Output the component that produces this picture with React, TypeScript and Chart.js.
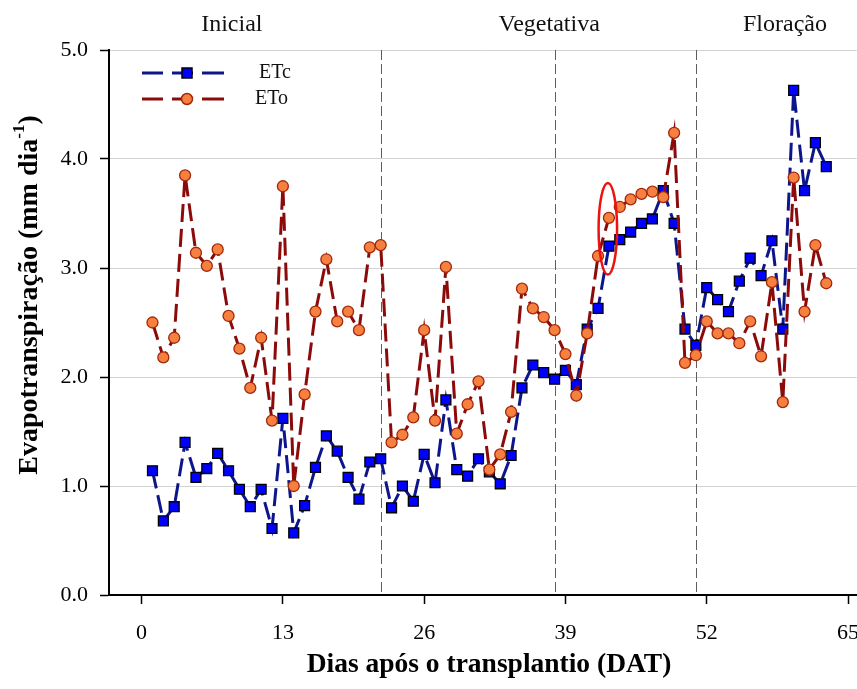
import React, { useEffect, useRef } from 'react';
import { Chart, registerables } from 'chart.js';

Chart.register(...registerables);

// ---- data ----
const days = [
  1, 2, 3, 4, 5, 6, 7, 8, 9, 10, 11, 12, 13, 14, 15, 16, 17, 18, 19, 20, 21,
  22, 23, 24, 25, 26, 27, 28, 29, 30, 31, 32, 33, 34, 35, 36, 37, 38, 39, 40, 41, 42,
  43, 44, 45, 46, 47, 48, 49, 50, 51, 52, 53, 54, 55, 56, 57, 58, 59, 60, 61, 62, 63,
];

const etc = [
  1.14, 0.68, 0.81, 1.40, 1.08, 1.16, 1.30, 1.14, 0.97, 0.81, 0.97, 0.61, 1.62, 0.57, 0.82, 1.17, 1.46, 1.32, 1.08, 0.88, 1.22,
  1.25, 0.80, 1.00, 0.86, 1.29, 1.03, 1.79, 1.15, 1.09, 1.25, 1.13, 1.02, 1.28, 1.90, 2.11, 2.04, 1.98, 2.06, 1.93, 2.44, 2.63,
  3.20, 3.26, 3.33, 3.41, 3.45, 3.71, 3.41, 2.44, 2.29, 2.82, 2.71, 2.60, 2.88, 3.09, 2.93, 3.25, 2.44, 4.63, 3.71, 4.15, 3.93,
];

const eto = [
  2.50, 2.18, 2.36, 3.85, 3.14, 3.02, 3.17, 2.56, 2.26, 1.90, 2.36, 1.60, 3.75, 1.00, 1.84, 2.60, 3.08, 2.51, 2.60, 2.43, 3.19,
  3.21, 1.40, 1.47, 1.63, 2.43, 1.60, 3.01, 1.48, 1.75, 1.96, 1.15, 1.29, 1.68, 2.81, 2.63, 2.55, 2.43, 2.21, 1.83, 2.40, 3.11,
  3.46, 3.56, 3.63, 3.68, 3.70, 3.65, 4.24, 2.13, 2.20, 2.51, 2.40, 2.40, 2.31, 2.51, 2.19, 2.87, 1.77, 3.83, 2.60, 3.21, 2.86,
];

const seriesNames = ['ETc', 'ETo'];
const xTicks = [0, 13, 26, 39, 52, 65];
const yTicks = [0, 1, 2, 3, 4, 5];
const phaseBoundaries = [22, 38, 51];
const phaseLabels = ['Inicial', 'Vegetativa', 'Floração'];
const phaseLabelDays = [8.3, 37.5, 59.2];
const highlightDay = 42.9;
const highlightValue = 3.36;
const highlightHalfDays = 0.85;
const highlightHalfValue = 0.42;

const xTitle = 'Dias após o transplantio (DAT)';
const yTitleMain = 'Evapotranspiração (mm dia';
const yTitleSup = '-1';
const yTitleEnd = ')';

const SERIF = "'Liberation Serif', 'Times New Roman', serif";

const ETC_LINE = '#0c168a';
const ETC_FILL = '#0000ff';
const ETO_LINE = '#8b0a0a';
const ETO_FILL = '#f5803f';
const ETO_EDGE = '#a3290c';

const overlayPlugin = {
  id: 'overlay',
  beforeDatasetsDraw(chart: any) {
    const { ctx, chartArea, scales } = chart;
    const x = scales.x;
    ctx.save();
    ctx.strokeStyle = '#5e5e5e';
    ctx.lineWidth = 1;
    ctx.setLineDash([10, 4]);
    phaseBoundaries.forEach((d) => {
      const px = Math.round(x.getPixelForValue(d)) + 0.5;
      ctx.beginPath();
      ctx.moveTo(px, chartArea.top);
      ctx.lineTo(px, chartArea.bottom);
      ctx.stroke();
    });
    ctx.restore();
  },
  afterDatasetsDraw(chart: any) {
    const { ctx, scales } = chart;
    const x = scales.x;
    const y = scales.y;
    const cx = x.getPixelForValue(highlightDay);
    const cy = y.getPixelForValue(highlightValue);
    const rx = Math.abs(x.getPixelForValue(highlightDay + highlightHalfDays) - cx);
    const ry = Math.abs(y.getPixelForValue(highlightValue + highlightHalfValue) - cy);
    ctx.save();
    ctx.strokeStyle = '#ee1111';
    ctx.lineWidth = 2.5;
    ctx.beginPath();
    ctx.ellipse(cx, cy, rx, ry, 0, 0, Math.PI * 2);
    ctx.stroke();
    ctx.restore();
  },
  afterDraw(chart: any) {
    const { ctx, scales } = chart;
    const x = scales.x;
    ctx.save();
    // phase labels
    ctx.fillStyle = '#111';
    ctx.font = `24px ${SERIF}`;
    ctx.textAlign = 'center';
    ctx.textBaseline = 'middle';
    phaseLabels.forEach((t, i) => {
      ctx.fillText(t, x.getPixelForValue(phaseLabelDays[i]), 25);
    });

    // legend
    const rows = [
      { name: seriesNames[0], y: 73, line: ETC_LINE, fill: ETC_FILL, edge: '#000', square: true, tx: 259 },
      { name: seriesNames[1], y: 99, line: ETO_LINE, fill: ETO_FILL, edge: ETO_EDGE, square: false, tx: 255 },
    ];
    rows.forEach((r) => {
      ctx.strokeStyle = r.line;
      ctx.lineWidth = 3;
      ctx.setLineDash([]);
      [[142, 163], [172, 193], [202, 224]].forEach(([a, b]) => {
        ctx.beginPath();
        ctx.moveTo(a, r.y);
        ctx.lineTo(b, r.y);
        ctx.stroke();
      });
      ctx.fillStyle = r.fill;
      ctx.strokeStyle = r.edge;
      ctx.lineWidth = 1.5;
      ctx.beginPath();
      if (r.square) ctx.rect(187 - 5, r.y - 5, 10, 10);
      else ctx.arc(187, r.y, 5.5, 0, Math.PI * 2);
      ctx.fill();
      ctx.stroke();
      ctx.fillStyle = '#111';
      ctx.font = `20px ${SERIF}`;
      ctx.textAlign = 'left';
      ctx.textBaseline = 'middle';
      ctx.fillText(r.name, r.tx, r.y);
    });

    // x title
    ctx.fillStyle = '#000';
    ctx.font = `bold 27.5px ${SERIF}`;
    ctx.textAlign = 'center';
    ctx.textBaseline = 'middle';
    ctx.fillText(xTitle, 489, 665);

    // y title with superscript
    ctx.translate(30, 295);
    ctx.rotate(-Math.PI / 2);
    const mainFont = `bold 28px ${SERIF}`;
    const supFont = `bold 17px ${SERIF}`;
    ctx.font = mainFont;
    const w1 = ctx.measureText(yTitleMain).width;
    const w3 = ctx.measureText(yTitleEnd).width;
    ctx.font = supFont;
    const w2 = ctx.measureText(yTitleSup).width;
    const total = w1 + w2 + w3;
    let px = -total / 2;
    ctx.textAlign = 'left';
    ctx.textBaseline = 'middle';
    ctx.font = mainFont;
    ctx.fillText(yTitleMain, px, 0);
    px += w1;
    ctx.font = supFont;
    ctx.fillText(yTitleSup, px, -10);
    px += w2;
    ctx.font = mainFont;
    ctx.fillText(yTitleEnd, px, 0);
    ctx.restore();
  },
};

export default function App() {
  const canvasRef = useRef<HTMLCanvasElement | null>(null);

  useEffect(() => {
    if (!canvasRef.current) return;
    const chart = new Chart(canvasRef.current, {
      type: 'line',
      data: {
        datasets: [
          {
            label: seriesNames[1],
            data: days.map((d, i) => ({ x: d, y: eto[i] })),
            borderColor: ETO_LINE,
            borderWidth: 3,
            borderDash: [18, 7],
            pointStyle: 'circle',
            pointRadius: 5.5,
            pointBackgroundColor: ETO_FILL,
            pointBorderColor: ETO_EDGE,
            pointBorderWidth: 1.3,
            fill: false,
            tension: 0,
          },
          {
            label: seriesNames[0],
            data: days.map((d, i) => ({ x: d, y: etc[i] })),
            borderColor: ETC_LINE,
            borderWidth: 3,
            borderDash: [18, 7],
            pointStyle: 'rect',
            pointRadius: 7,
            pointBackgroundColor: ETC_FILL,
            pointBorderColor: '#000',
            pointBorderWidth: 1.3,
            fill: false,
            tension: 0,
          },
        ],
      },
      options: {
        animation: false,
        responsive: true,
        maintainAspectRatio: false,
        layout: { padding: { top: 50, left: 0, right: 0, bottom: 0 } },
        plugins: {
          legend: { display: false },
          tooltip: { enabled: false },
          title: { display: false },
        },
        scales: {
          x: {
            type: 'linear',
            min: -3,
            max: 65.8,
            afterBuildTicks: (s: any) => {
              s.ticks = xTicks.map((v) => ({ value: v }));
            },
            afterFit: (s: any) => {
              s.height = 94;
              s.paddingLeft = 0;
              s.paddingRight = 0;
            },
            grid: {
              drawOnChartArea: false,
              drawTicks: true,
              tickLength: 9,
              tickColor: '#000',
              tickWidth: 1.5,
            },
            border: { color: '#000', width: 2 },
            ticks: {
              color: '#000',
              font: { family: SERIF, size: 22 },
              padding: 16,
              maxRotation: 0,
              autoSkip: false,
              callback: (v: any) => String(v),
            },
          },
          y: {
            min: 0,
            max: 5,
            afterBuildTicks: (s: any) => {
              s.ticks = yTicks.map((v) => ({ value: v }));
            },
            afterFit: (s: any) => {
              s.width = 109;
            },
            grid: {
              color: '#d2d2d2',
              lineWidth: 1,
              tickColor: '#000',
              tickLength: 9,
              tickWidth: 1.5,
            },
            border: { color: '#000', width: 2 },
            ticks: {
              color: '#000',
              font: { family: SERIF, size: 22 },
              padding: 12,
              callback: (v: any) => Number(v).toFixed(1),
            },
          },
        },
      },
      plugins: [overlayPlugin],
    } as any);
    return () => chart.destroy();
  }, []);

  // The inner box is slightly wider than the window so that the plot area
  // reaches the right edge (Chart.js reserves room for the point markers).
  return (
    <div style={{ position: 'absolute', left: 0, top: 0, width: 857, height: 689, overflow: 'hidden', background: '#fff' }}>
      <div style={{ position: 'relative', width: 865, height: 689 }}>
        <canvas ref={canvasRef} />
      </div>
    </div>
  );
}
